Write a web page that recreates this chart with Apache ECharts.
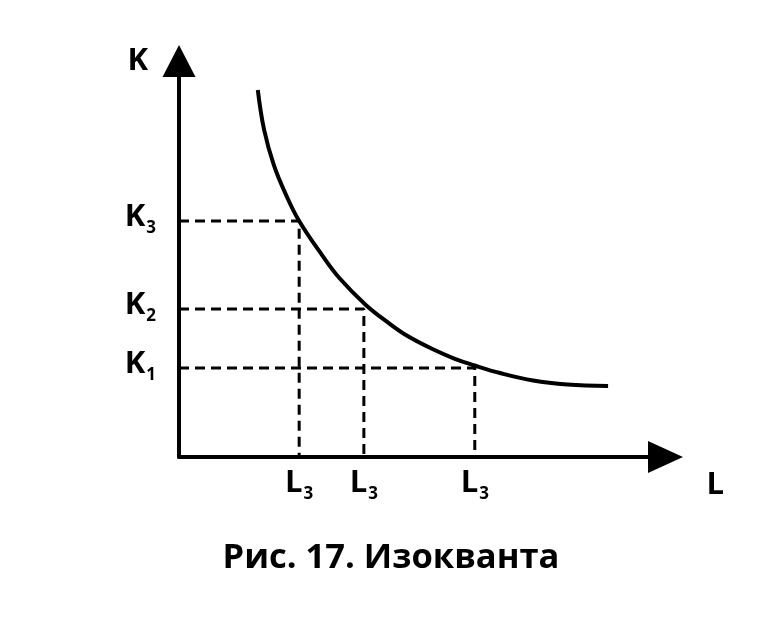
<!DOCTYPE html>
<html>
<head>
<meta charset="utf-8">
<script src="https://cdn.jsdelivr.net/npm/echarts@6/dist/echarts.min.js"></script>
<style>html,body{margin:0;padding:0;background:#fff}#c{width:766px;height:621px}</style>
</head>
<body>
<div id="c"></div>
<script>
// Levels of labour (L) and capital (K) marked on the axes
const levelL = [2.47, 3.80, 6.08];
const levelK = [5.96, 3.74, 2.25];
const tickLabelsL = ['L', 'L', 'L'];
const tickSubsL = ['3', '3', '3'];
const tickLabelsK = ['K', 'K', 'K'];
const tickSubsK = ['3', '2', '1'];
// Isoquant curve
const curveL = [1.62, 1.75, 1.95, 2.20, 2.47, 2.94, 3.31, 3.84, 4.28, 4.69, 5.22, 5.67, 6.08, 6.60, 7.28, 7.98, 8.82];
const curveK = [9.27, 8.26, 7.37, 6.62, 5.96, 5.10, 4.50, 3.84, 3.41, 3.06, 2.72, 2.48, 2.31, 2.12, 1.93, 1.83, 1.79];
const caption = 'Рис. 17. Изокванта';

const FONT = '"Open Sans", "DejaVu Sans", sans-serif';
const chart = echarts.init(document.getElementById('c'), null, {renderer: 'canvas'});

const guideSeries = levelK.map((k, i) => ({
  type: 'line',
  data: [[0, k], [levelL[i], k], [levelL[i], 0]],
  showSymbol: false,
  symbol: 'none',
  silent: true,
  z: 2,
  lineStyle: {color: '#000', width: 3, type: [10, 6]}
}));

const rich = {
  m: {fontFamily: FONT, fontWeight: 'bold', fontSize: 31, color: '#000', lineHeight: 32, verticalAlign: 'bottom', padding: [0, 0, 4, 0]},
  s: {fontFamily: FONT, fontWeight: 'bold', fontSize: 17, color: '#000', lineHeight: 17, verticalAlign: 'bottom', padding: [0, 0, 0, 1]}
};

chart.setOption({
  backgroundColor: '#fff',
  animation: false,
  title: {
    text: caption,
    left: 386,
    textAlign: 'center',
    top: 536,
    textStyle: {fontFamily: FONT, fontWeight: 'bold', fontSize: 34.5, color: '#000'}
  },
  grid: {left: 179, right: 100.5, top: 61, bottom: 164, containLabel: false},
  xAxis: {
    type: 'value', min: 0, max: 10,
    splitLine: {show: false},
    axisTick: {show: false},
    name: 'L',
    nameLocation: 'end',
    nameGap: 41,
    nameTextStyle: {fontFamily: FONT, fontWeight: 'bold', fontSize: 31, color: '#000', align: 'left', verticalAlign: 'top', padding: [13, 0, 0, 0]},
    axisLine: {show: true, onZero: false, lineStyle: {color: '#000', width: 4}, symbol: ['none', 'triangle'], symbolSize: [32, 35]},
    axisLabel: {
      show: true,
      customValues: levelL,
      margin: 14,
      formatter: function (v) {
        const i = levelL.indexOf(v);
        return i < 0 ? '' : '{m|' + tickLabelsL[i] + '}{s|' + tickSubsL[i] + '}';
      },
      rich: rich
    }
  },
  yAxis: {
    type: 'value', min: 0, max: 10,
    splitLine: {show: false},
    axisTick: {show: false},
    name: 'K',
    nameLocation: 'end',
    nameGap: 0,
    nameTextStyle: {fontFamily: FONT, fontWeight: 'bold', fontSize: 31, color: '#000', align: 'right', verticalAlign: 'middle', padding: [0, 31, 0, 0]},
    axisLine: {show: true, onZero: false, lineStyle: {color: '#000', width: 4}, symbol: ['none', 'triangle'], symbolSize: [33, 32]},
    axisLabel: {
      show: true,
      customValues: levelK,
      margin: 23,
      formatter: function (v) {
        const i = levelK.indexOf(v);
        return i < 0 ? '' : '{m|' + tickLabelsK[i] + '}{s|' + tickSubsK[i] + '}';
      },
      rich: rich
    }
  },
  series: guideSeries.concat([{
    type: 'line',
    data: curveL.map((x, i) => [x, curveK[i]]),
    showSymbol: false,
    symbol: 'none',
    smooth: 0.4,
    silent: true,
    z: 3,
    lineStyle: {color: '#000', width: 4}
  }])
});
</script>
</body>
</html>
